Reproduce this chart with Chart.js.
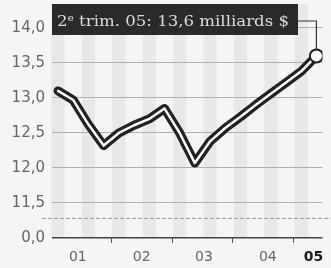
<!DOCTYPE html>
<html>
<head>
<meta charset="utf-8">
<script src="https://cdn.jsdelivr.net/npm/chart.js@4.4.1/dist/chart.umd.min.js"></script>
<style>
  html, body { margin: 0; padding: 0; background: #f5f5f5; }
  canvas { display: block; }
</style>
</head>
<body>
<canvas id="grafica" width="331" height="268"></canvas>
<script>
// trimestres 2001 T1 -> 2005 T2, en milliards de $
const trimestres = ["01T1", "01T2", "01T3", "01T4", "02T1", "02T2", "02T3", "02T4",
    "03T1", "03T2", "03T3", "03T4", "04T1", "04T2", "04T3", "04T4", "05T1", "05T2"];
const valeurs = [13.10, 12.97, 12.62, 12.32, 12.50, 12.61, 12.70, 12.85,
    12.50, 12.07, 12.38, 12.57, 12.73, 12.90, 13.06, 13.22, 13.38, 13.60];

const yTicks = [11.0, 11.5, 12.0, 12.5, 13.0, 13.5, 14.0];
const yLabels = ["0,0", "11,5", "12,0", "12,5", "13,0", "13,5", "14,0"];
const annees = ["01", "02", "03", "04", "05"];
const anneesPos = [1.3, 5.5, 9.6, 13.8, 16.8];
const limitesAnnees = [3.5, 7.5, 11.5, 15.5];
const coupure = 11.28; // axe interrompu
const titre = " trim. 05: 13,6 milliards $";

const tickVal = c => (c && c.tick ? c.tick.value : null);

const decor = {
    id: "decor",
    beforeDraw(chart) {
        const { ctx, chartArea, scales } = chart;
        ctx.save();
        ctx.fillStyle = "#f5f5f5";
        ctx.fillRect(0, 0, chart.width, chart.height);
        // bandes grises un trimestre sur deux
        ctx.fillStyle = "#e8e8e8";
        trimestres.forEach((t, i) => {
            if (i % 2 !== 0) return;
            const x1 = scales.x.getPixelForValue(i - 0.43);
            const x2 = scales.x.getPixelForValue(i + 0.43);
            ctx.fillRect(x1, 4, x2 - x1, chartArea.bottom - 4);
        });
        ctx.restore();
    },
    beforeDatasetsDraw(chart) {
        const { ctx, scales } = chart;
        ctx.save();
        const yc = scales.y.getPixelForValue(coupure);
        ctx.strokeStyle = "#999";
        ctx.lineWidth = 1;
        ctx.setLineDash([4, 2]);
        ctx.beginPath();
        ctx.moveTo(42, yc);
        ctx.lineTo(chart.width, yc);
        ctx.stroke();
        ctx.setLineDash([]);
        // trait vers le dernier point
        const last = valeurs.length - 1;
        const px = scales.x.getPixelForValue(last);
        const py = scales.y.getPixelForValue(valeurs[last]);
        ctx.strokeStyle = "#333";
        ctx.lineWidth = 1.2;
        ctx.beginPath();
        ctx.moveTo(296, 21);
        ctx.lineTo(px, 21);
        ctx.lineTo(px, py);
        ctx.stroke();
        ctx.restore();
    },
    afterDraw(chart) {
        const { ctx } = chart;
        ctx.save();
        ctx.fillStyle = "#2a2a2a";
        ctx.fillRect(52, 4, 246, 31);
        ctx.fillStyle = "#dcdcdc";
        ctx.textBaseline = "alphabetic";
        const big = "14px 'DejaVu Serif'";
        const small = "9px 'DejaVu Serif'";
        ctx.font = big;
        const w2 = ctx.measureText("2").width;
        const wr = ctx.measureText(titre).width;
        ctx.font = small;
        const we = ctx.measureText("e").width;
        const total = w2 + we + wr;
        const sx = 232 / total;
        ctx.translate(57, 26);
        ctx.scale(sx, 1);
        ctx.font = big;
        ctx.fillText("2", 0, 0);
        ctx.font = small;
        ctx.fillText("e", w2, -5);
        ctx.font = big;
        ctx.fillText(titre, w2 + we, 0);
        ctx.restore();
    }
};

function prepararConfig() {
    const points = valeurs.map((v, i) => ({ x: i, y: v }));
    const rayons = valeurs.map((v, i) => (i === valeurs.length - 1 ? 6.5 : 0));
    return {
        type: "line",
        data: {
            datasets: [
                {
                    data: points,
                    order: 0,
                    borderColor: "#ffffff",
                    borderWidth: 2.5,
                    borderJoinStyle: "round",
                    borderCapStyle: "round",
                    tension: 0,
                    pointRadius: rayons,
                    pointBackgroundColor: "#ffffff",
                    pointBorderColor: "#222",
                    pointBorderWidth: 2
                },
                {
                    data: points,
                    order: 1,
                    borderColor: "#222",
                    borderWidth: 9,
                    borderJoinStyle: "round",
                    borderCapStyle: "round",
                    tension: 0,
                    pointRadius: 0
                }
            ]
        },
        options: {
            responsive: false,
            animation: false,
            layout: { padding: { top: 0, right: 6, left: 0, bottom: 0 } },
            plugins: {
                legend: { display: false },
                tooltip: { enabled: false },
                title: { display: false }
            },
            scales: {
                x: {
                    type: "linear",
                    min: -0.4,
                    max: 17.4,
                    afterBuildTicks(scale) {
                        scale.ticks = anneesPos.concat(limitesAnnees)
                            .sort((a, b) => a - b)
                            .map(v => ({ value: v }));
                    },
                    afterFit(scale) { scale.height = 30; },
                    border: { display: false },
                    grid: {
                        drawOnChartArea: false,
                        tickLength: 5,
                        color: c => (limitesAnnees.includes(tickVal(c)) ? "#555" : "rgba(0,0,0,0)")
                    },
                    ticks: {
                        autoSkip: false,
                        maxRotation: 0,
                        padding: 6,
                        callback: v => {
                            const k = anneesPos.indexOf(v);
                            return k >= 0 ? annees[k] : "";
                        },
                        color: c => (tickVal(c) === anneesPos[4] ? "#1a1a1a" : "#666"),
                        font: c => ({
                            family: "'DejaVu Sans'",
                            size: 14,
                            weight: tickVal(c) === anneesPos[4] ? "bold" : "normal"
                        })
                    }
                },
                y: {
                    type: "linear",
                    min: 11.0,
                    max: 14.17,
                    afterBuildTicks(scale) {
                        scale.ticks = yTicks.map(v => ({ value: v }));
                    },
                    afterFit(scale) { scale.width = 52; },
                    border: { display: false },
                    grid: {
                        drawTicks: false,
                        color: c => (tickVal(c) === 11 ? "#444" : "#b0b0b0"),
                        lineWidth: c => (tickVal(c) === 11 ? 1.6 : 1)
                    },
                    ticks: {
                        padding: 7,
                        color: "#666",
                        font: { family: "'DejaVu Sans'", size: 15 },
                        callback: v => yLabels[yTicks.indexOf(v)]
                    }
                }
            }
        },
        plugins: [decor]
    };
}

function renderGrafica() {
    const chartDOM = document.getElementById("grafica");
    new Chart(chartDOM, prepararConfig());
}

renderGrafica();
</script>
</body>
</html>
